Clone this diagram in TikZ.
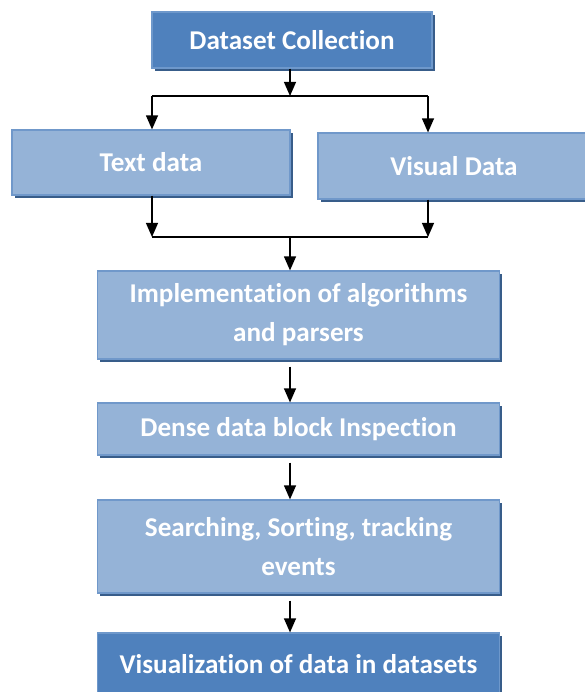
\documentclass[tikz,border=0pt]{standalone}
\usepackage{fontspec}
\setmainfont{Carlito}[Ligatures=NoCommon]
\usetikzlibrary{arrows.meta,shadows}

\definecolor{darkbox}{HTML}{4F81BD}
\definecolor{darkrim}{HTML}{6E98CB}
\definecolor{lightbox}{HTML}{95B3D7}
\definecolor{lightrim}{HTML}{7098CA}
\definecolor{boxshade}{HTML}{385D8A}

\tikzset{
  stage/.style={draw=lightrim,fill=lightbox,line width=0.8pt,inner sep=0pt,
    text=white,align=center,font=\bfseries\fontsize{19.3}{27.6}\selectfont,
    drop shadow={fill=boxshade,opacity=1,shadow xshift=2pt,shadow yshift=-2pt}},
  endstage/.style={stage,draw=darkrim,fill=darkbox},
  flow/.style={line width=1pt,-{Triangle[width=8.5pt,length=10pt]}},
  link/.style={line width=1pt}
}

\begin{document}
\begin{tikzpicture}[x=0.025cm,y=-0.025cm]
\clip (0,0) rectangle (585,692);
            % Stages
\node[endstage,minimum width=7cm,minimum height=1.4cm]   (coll)   at (292,40)    {Dataset Collection};
\node[stage,minimum width=6.95cm,minimum height=1.625cm] (txt)    at (151,162.5) {Text data};
\node[stage,minimum width=6.8cm,minimum height=1.65cm]   (vis)    at (454,166)   {Visual Data};
\node[stage,minimum width=10.05cm,minimum height=2.2cm]  (impl)   at (298.5,315) {Implementation of algorithms\\and parsers};
\node[stage,minimum width=10.05cm,minimum height=1.3cm]  (dense)  at (298.5,429) {Dense data block Inspection};
\node[stage,minimum width=10.05cm,minimum height=2.325cm](search) at (298.5,546.5){Searching, Sorting, tracking\\events};
\node[endstage,minimum width=10.05cm,minimum height=1.55cm](visual) at (298.5,664) {Visualization of data in datasets};
%Split
\coordinate (split)  at (290,96);
\coordinate (splitl) at (152,96);
\coordinate (splitr) at (428,96);
\draw[flow] (coll.south -| split) -- (split);
\draw[link] (splitl) -- (splitr);
\draw[flow] (splitl) -- (txt.north -| splitl);
\draw[flow] (splitr) -- (vis.north -| splitr);
%Join
\coordinate (join)  at (290,237);
\coordinate (joinl) at (152,237);
\coordinate (joinr) at (428,237);
\draw[flow] (txt.south -| joinl) -- (joinl);
\draw[flow] (vis.south -| joinr) -- (joinr);
\draw[link] (joinl) -- (joinr);
\draw[flow] (join) -- (impl.north -| join);
%Chain
\draw[flow,shorten <=5pt] (impl.south -| join) -- (dense.north -| join);
\draw[flow,shorten <=5pt] (dense.south -| join) -- (search.north -| join);
\draw[flow,shorten <=5pt] (search.south -| join) -- (visual.north -| join);
\end{tikzpicture}
\end{document}
